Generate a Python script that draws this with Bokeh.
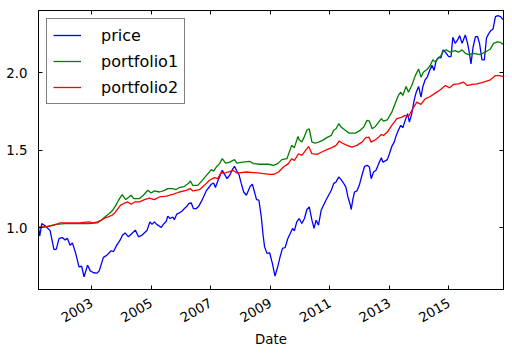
import pandas as pd
from bokeh.plotting import figure
from bokeh.models import (Range1d, FixedTicker, DatetimeAxis, LinearAxis,
                          DatetimeTickFormatter, PrintfTickFormatter,
                          SingleIntervalTicker, Legend, LegendItem)
from bokeh.embed import file_html
from bokeh.resources import INLINE

# ---- data (dates as decimal years) ----
price_t = [2001.22, 2001.26, 2001.33, 2001.45, 2001.61, 2001.74, 2001.82, 2001.91, 2002.02, 2002.11,
           2002.19, 2002.28, 2002.36, 2002.47, 2002.58, 2002.67, 2002.75, 2002.87, 2002.96, 2003.07,
           2003.18, 2003.26, 2003.40, 2003.51, 2003.66, 2003.74, 2003.85, 2003.96, 2004.04, 2004.13,
           2004.24, 2004.35, 2004.47, 2004.58, 2004.69, 2004.86, 2004.96, 2005.03, 2005.11, 2005.19,
           2005.34, 2005.41, 2005.51, 2005.56, 2005.64, 2005.73, 2005.78, 2005.86, 2005.95, 2006.04,
           2006.12, 2006.20, 2006.27, 2006.35, 2006.42, 2006.52, 2006.60, 2006.68, 2006.76, 2006.85,
           2006.94, 2007.02, 2007.10, 2007.16, 2007.24, 2007.32, 2007.39, 2007.47, 2007.55, 2007.64,
           2007.73, 2007.80, 2007.88, 2007.95, 2008.03, 2008.11, 2008.20, 2008.33, 2008.40, 2008.48,
           2008.54, 2008.62, 2008.70, 2008.76, 2008.81, 2008.89, 2008.98, 2009.07, 2009.16, 2009.25,
           2009.33, 2009.41, 2009.50, 2009.59, 2009.67, 2009.75, 2009.81, 2009.89, 2009.97, 2010.06,
           2010.15, 2010.23, 2010.31, 2010.40, 2010.47, 2010.54, 2010.62, 2010.71, 2010.79, 2010.87,
           2010.96, 2011.05, 2011.13, 2011.21, 2011.30, 2011.38, 2011.46, 2011.54, 2011.61, 2011.69,
           2011.72, 2011.77, 2011.83, 2011.91, 2011.99, 2012.08, 2012.17, 2012.25, 2012.33, 2012.39,
           2012.47, 2012.55, 2012.64, 2012.73, 2012.78, 2012.86, 2012.93, 2013.00, 2013.08, 2013.16,
           2013.23, 2013.30, 2013.38, 2013.45, 2013.53, 2013.61, 2013.67, 2013.75, 2013.83, 2013.90,
           2013.98, 2014.06, 2014.12, 2014.20, 2014.28, 2014.35, 2014.43, 2014.50, 2014.57, 2014.65,
           2014.73, 2014.80, 2014.88, 2014.99, 2015.07, 2015.13, 2015.21, 2015.29, 2015.36, 2015.44,
           2015.55, 2015.63, 2015.69, 2015.74, 2015.81, 2015.89, 2015.96, 2016.03, 2016.11, 2016.19,
           2016.26, 2016.33, 2016.41, 2016.48, 2016.56, 2016.64, 2016.73, 2016.82]
price = [1.00, 0.945, 1.025, 1.01, 0.98, 0.858, 0.86, 0.93, 0.935, 0.92,
         0.93, 0.886, 0.90, 0.833, 0.746, 0.75, 0.682, 0.757, 0.72, 0.708,
         0.705, 0.72, 0.807, 0.82, 0.85, 0.845, 0.886, 0.918, 0.95, 0.965,
         0.94, 0.96, 0.983, 0.94, 0.95, 0.98, 1.036, 1.02, 1.036, 1.02,
         1.00, 1.02, 1.04, 1.073, 1.058, 1.068, 1.05, 1.086, 1.094, 1.107,
         1.122, 1.137, 1.155, 1.158, 1.122, 1.122, 1.137, 1.165, 1.197, 1.236,
         1.258, 1.279, 1.287, 1.258, 1.30, 1.337, 1.369, 1.343, 1.315, 1.337,
         1.373, 1.395, 1.364, 1.343, 1.283, 1.229, 1.208, 1.266, 1.279, 1.223,
         1.18, 1.176, 1.068, 0.95, 0.875, 0.833, 0.837, 0.768, 0.686, 0.746,
         0.81, 0.865, 0.871, 0.929, 0.961, 0.994, 0.978, 1.036, 1.058, 1.026,
         1.058, 1.116, 1.133, 1.047, 0.994, 1.047, 1.015, 1.111, 1.144, 1.176,
         1.208, 1.24, 1.283, 1.294, 1.326, 1.309, 1.287, 1.261, 1.197, 1.144,
         1.116, 1.176, 1.229, 1.236, 1.272, 1.337, 1.395, 1.401, 1.39, 1.315,
         1.358, 1.369, 1.412, 1.45, 1.422, 1.43, 1.438, 1.476, 1.523, 1.551,
         1.594, 1.627, 1.659, 1.644, 1.691, 1.734, 1.68, 1.734, 1.82, 1.873,
         1.91, 1.841, 1.906, 1.953, 1.974, 2.013, 2.046, 2.013, 2.077, 2.098,
         2.094, 2.146, 2.131, 2.103, 2.103, 2.227, 2.188, 2.21, 2.238, 2.188,
         2.242, 2.185, 2.12, 2.056, 2.163, 2.232, 2.232, 2.185, 2.082, 2.082,
         2.223, 2.249, 2.271, 2.281, 2.361, 2.367, 2.361, 2.34]

p1_t = [2001.22, 2001.50, 2001.80, 2002.10, 2002.50, 2002.90, 2003.20, 2003.33, 2003.45, 2003.60,
        2003.71, 2003.82, 2003.91, 2004.03, 2004.15, 2004.26, 2004.33, 2004.42, 2004.60, 2004.74,
        2004.89, 2005.00, 2005.11, 2005.28, 2005.45, 2005.56, 2005.73, 2005.84, 2005.95, 2006.12,
        2006.27, 2006.32, 2006.40, 2006.57, 2006.74, 2006.91, 2007.02, 2007.10, 2007.19, 2007.30,
        2007.39, 2007.50, 2007.64, 2007.80, 2007.88, 2008.08, 2008.31, 2008.44, 2008.65, 2008.94,
        2009.11, 2009.25, 2009.39, 2009.56, 2009.72, 2009.81, 2009.93, 2009.97, 2010.06, 2010.15,
        2010.23, 2010.31, 2010.40, 2010.51, 2010.62, 2010.76, 2010.90, 2011.05, 2011.13, 2011.21,
        2011.30, 2011.38, 2011.52, 2011.65, 2011.86, 2012.02, 2012.14, 2012.25, 2012.33, 2012.42,
        2012.53, 2012.64, 2012.73, 2012.80, 2012.93, 2013.08, 2013.19, 2013.30, 2013.38, 2013.45,
        2013.56, 2013.64, 2013.75, 2013.87, 2013.98, 2014.06, 2014.14, 2014.28, 2014.37, 2014.46,
        2014.54, 2014.65, 2014.73, 2014.82, 2014.91, 2015.04, 2015.21, 2015.32, 2015.44, 2015.55,
        2015.66, 2015.83, 2016.05, 2016.22, 2016.39, 2016.50, 2016.62, 2016.73, 2016.82]
portfolio1 = [1.00, 1.005, 1.02, 1.025, 1.025, 1.025, 1.03, 1.047, 1.068, 1.09,
              1.111, 1.144, 1.176, 1.212, 1.18, 1.197, 1.208, 1.186, 1.186, 1.208,
              1.24, 1.223, 1.236, 1.229, 1.24, 1.251, 1.251, 1.245, 1.258, 1.266,
              1.287, 1.30, 1.272, 1.272, 1.309, 1.348, 1.373, 1.364, 1.39, 1.412,
              1.444, 1.416, 1.422, 1.438, 1.416, 1.422, 1.427, 1.412, 1.408, 1.408,
              1.401, 1.412, 1.438, 1.444, 1.53, 1.515, 1.588, 1.566, 1.551, 1.588,
              1.627, 1.637, 1.551, 1.545, 1.551, 1.562, 1.58, 1.594, 1.627, 1.637,
              1.67, 1.648, 1.627, 1.609, 1.609, 1.627, 1.648, 1.691, 1.686, 1.637,
              1.652, 1.68, 1.702, 1.686, 1.695, 1.744, 1.798, 1.852, 1.873, 1.852,
              1.91, 1.873, 1.916, 1.98, 2.023, 1.97, 2.002, 2.023, 2.045, 2.082,
              2.067, 2.094, 2.109, 2.141, 2.146, 2.131, 2.141, 2.131, 2.146, 2.124,
              2.116, 2.124, 2.116, 2.131, 2.152, 2.188, 2.197, 2.195, 2.18]

p2_t = [2001.22, 2001.50, 2001.75, 2001.95, 2002.30, 2002.60, 2002.90, 2003.05, 2003.20, 2003.33,
        2003.45, 2003.56, 2003.69, 2003.78, 2003.89, 2003.98, 2004.09, 2004.22, 2004.33, 2004.45,
        2004.61, 2004.78, 2004.94, 2005.11, 2005.28, 2005.51, 2005.73, 2005.95, 2006.18, 2006.31,
        2006.40, 2006.63, 2006.79, 2006.96, 2007.13, 2007.24, 2007.36, 2007.43, 2007.58, 2007.75,
        2007.88, 2008.20, 2008.65, 2008.98, 2009.11, 2009.28, 2009.44, 2009.61, 2009.72, 2009.81,
        2009.95, 2010.06, 2010.17, 2010.29, 2010.40, 2010.57, 2010.73, 2010.90, 2011.07, 2011.21,
        2011.32, 2011.41, 2011.58, 2011.74, 2011.91, 2012.08, 2012.21, 2012.31, 2012.39, 2012.53,
        2012.64, 2012.73, 2012.80, 2012.93, 2013.08, 2013.25, 2013.42, 2013.53, 2013.64, 2013.75,
        2013.92, 2014.06, 2014.20, 2014.37, 2014.54, 2014.71, 2014.88, 2015.02, 2015.15, 2015.32,
        2015.49, 2015.61, 2015.77, 2015.94, 2016.16, 2016.39, 2016.56, 2016.70, 2016.82]
portfolio2 = [1.00, 1.005, 1.015, 1.03, 1.03, 1.03, 1.036, 1.03, 1.036, 1.047,
              1.062, 1.068, 1.079, 1.094, 1.122, 1.144, 1.155, 1.165, 1.15, 1.165,
              1.165, 1.18, 1.19, 1.18, 1.197, 1.202, 1.214, 1.229, 1.24, 1.251,
              1.236, 1.245, 1.272, 1.305, 1.322, 1.315, 1.358, 1.348, 1.358, 1.369,
              1.351, 1.358, 1.351, 1.343, 1.343, 1.358, 1.39, 1.412, 1.444, 1.433,
              1.476, 1.465, 1.493, 1.523, 1.476, 1.472, 1.487, 1.502, 1.515, 1.53,
              1.558, 1.545, 1.53, 1.519, 1.53, 1.551, 1.58, 1.583, 1.551, 1.566,
              1.583, 1.60, 1.594, 1.616, 1.659, 1.702, 1.712, 1.723, 1.716, 1.755,
              1.809, 1.794, 1.83, 1.845, 1.867, 1.889, 1.916, 1.901, 1.923, 1.927,
              1.938, 1.916, 1.923, 1.927, 1.938, 1.953, 1.98, 1.98, 1.974]

series_names = ["price", "portfolio1", "portfolio2"]
x_ticks_years = [2003, 2005, 2007, 2009, 2011, 2013, 2015]
x_start, x_end = 2001.22, 2016.83
y_start, y_end = 0.6, 2.4


def to_dt(d):
    y = int(d)
    a = pd.Timestamp(year=y, month=1, day=1)
    b = pd.Timestamp(year=y + 1, month=1, day=1)
    return a + (b - a) * (d - y)


def dts(lst):
    return [to_dt(d) for d in lst]


FONT = "DejaVu Sans"

p = figure(width=512, height=356, output_backend="svg", toolbar_location=None,
           x_axis_type=None, y_axis_type=None,
           x_range=Range1d(to_dt(x_start), to_dt(x_end)),
           y_range=Range1d(y_start, y_end),
           min_border_left=38, min_border_right=9, min_border_top=10, min_border_bottom=67)
p.background_fill_color = "white"
p.border_fill_color = "white"
p.outline_line_color = "black"
p.outline_line_width = 1
p.outline_line_alpha = 1

tick_ms = [pd.Timestamp(year=y, month=1, day=1).value // 10**6 for y in x_ticks_years]
xticker = FixedTicker(ticks=tick_ms)
yticker = SingleIntervalTicker(interval=0.5)
fmt = "%Y"
xfmt = DatetimeTickFormatter(years=fmt, months=fmt, days=fmt, hours=fmt, minutes=fmt,
                             seconds=fmt, milliseconds=fmt, microseconds=fmt, minsec=fmt,
                             hourmin=fmt)


def style(ax, show_labels):
    ax.major_tick_in = 4
    ax.major_tick_out = 0
    ax.minor_tick_line_color = None
    ax.major_tick_line_color = "black"
    ax.axis_line_color = "black"
    ax.major_label_text_font = FONT
    if show_labels:
        ax.major_label_text_color = "black"
        ax.major_label_text_font_size = "13.3px"
    else:
        ax.major_label_text_color = None
        ax.major_label_text_font_size = "1px"
        ax.major_label_standoff = 0


xb = DatetimeAxis(ticker=xticker, formatter=xfmt)
style(xb, True)
xb.major_label_orientation = 0.5236
xb.major_label_standoff = 12
xb.axis_label = "Date"
xb.axis_label_text_font = FONT
xb.axis_label_text_font_size = "13.3px"
xb.axis_label_text_font_style = "normal"
xb.axis_label_text_color = "black"
xb.axis_label_standoff = 2
p.add_layout(xb, "below")

xt = DatetimeAxis(ticker=xticker, formatter=xfmt)
style(xt, False)
p.add_layout(xt, "above")

yl = LinearAxis(ticker=yticker, formatter=PrintfTickFormatter(format="%.1f"))
style(yl, True)
yl.major_label_standoff = 7
p.add_layout(yl, "left")

yr = LinearAxis(ticker=yticker, formatter=PrintfTickFormatter(format="%.1f"))
style(yr, False)
p.add_layout(yr, "right")

r1 = p.line(dts(price_t), price, line_color="#0000ff", line_width=1.3)
r2 = p.line(dts(p1_t), portfolio1, line_color="#008000", line_width=1.3)
r3 = p.line(dts(p2_t), portfolio2, line_color="#ff0000", line_width=1.3)

legend = Legend(items=[LegendItem(label=series_names[0], renderers=[r1]),
                       LegendItem(label=series_names[1], renderers=[r2]),
                       LegendItem(label=series_names[2], renderers=[r3])],
                location="top_left")
legend.margin = 8
legend.padding = 6
legend.spacing = 6
legend.label_height = 20
legend.glyph_height = 20
legend.glyph_width = 28
legend.label_standoff = 20
legend.label_text_font = FONT
legend.label_text_font_size = "16px"
legend.label_text_color = "black"
legend.border_line_color = "black"
legend.border_line_width = 1
legend.background_fill_color = "white"
legend.background_fill_alpha = 1
p.add_layout(legend)

open("out.html", "w").write(file_html(p, INLINE))
